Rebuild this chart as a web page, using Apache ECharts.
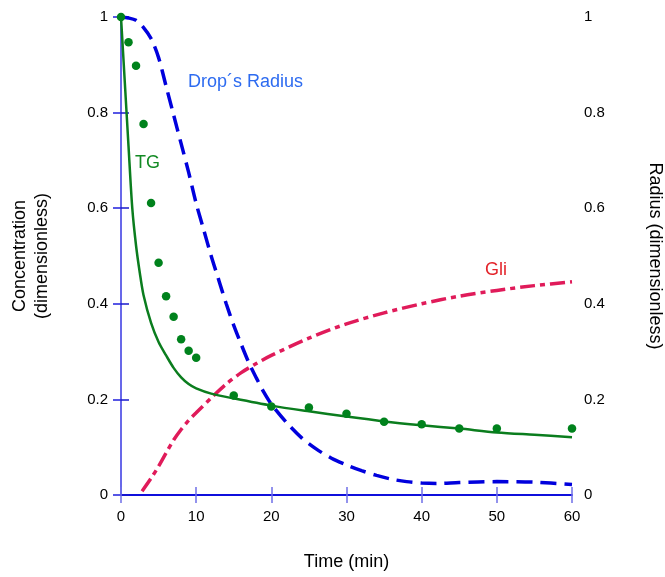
<!DOCTYPE html>
<html>
<head>
<meta charset="utf-8">
<script src="https://cdn.jsdelivr.net/npm/echarts@6/dist/echarts.min.js"></script>
<style>
  html, body { margin: 0; padding: 0; background: #fff; overflow: hidden; }
  #chart { width: 665px; height: 577px; }
</style>
</head>
<body>
<div id="chart"></div>
<script>
// Time axis ticks (min) and value axis ticks (dimensionless)
const timeTicks = [0, 10, 20, 30, 40, 50, 60];
const valueTicks = [0, 0.2, 0.4, 0.6, 0.8, 1];

// TG: model curve
const tgModelTime = [0, 0.5, 1, 1.5, 2, 2.5, 3, 4, 5, 6, 7, 8, 9, 10, 12, 15, 20, 25, 30, 35, 40, 45, 50, 55, 60];
const tgModel = [1, 0.865, 0.73, 0.6, 0.522, 0.465, 0.418, 0.36, 0.32, 0.292, 0.266, 0.246, 0.232, 0.223, 0.212, 0.202, 0.187, 0.175, 0.164, 0.154, 0.146, 0.139, 0.131, 0.126, 0.121];

// TG: measured points
const tgExpTime = [0, 1, 2, 3, 4, 5, 6, 7, 8, 9, 10, 15, 20, 25, 30, 35, 40, 45, 50, 60];
const tgExp = [1, 0.947, 0.898, 0.776, 0.611, 0.486, 0.416, 0.373, 0.326, 0.302, 0.287, 0.208, 0.185, 0.183, 0.17, 0.153, 0.148, 0.139, 0.139, 0.139];

// Gli: model curve
const gliTime = [2.8, 4, 5, 6, 7, 8, 9, 10, 12, 14, 16, 18, 20, 25, 30, 35, 40, 45, 50, 55, 60];
const gli = [0.008, 0.035, 0.06, 0.088, 0.115, 0.137, 0.156, 0.172, 0.203, 0.232, 0.256, 0.275, 0.292, 0.328, 0.358, 0.381, 0.4, 0.416, 0.428, 0.438, 0.446];

// Drop radius (right axis)
const radiusTime = [0, 1, 2, 3, 4, 5, 6, 7, 8, 9, 10, 11, 12, 13, 14, 15, 16, 17, 18, 19, 20, 22, 24, 26, 28, 30, 32, 34, 36, 38, 40, 42, 45, 50, 55, 60];
const radius = [1, 0.998, 0.993, 0.978, 0.955, 0.915, 0.855, 0.795, 0.735, 0.675, 0.61, 0.555, 0.5, 0.45, 0.4, 0.355, 0.315, 0.277, 0.245, 0.215, 0.19, 0.152, 0.12, 0.096, 0.077, 0.063, 0.051, 0.041, 0.033, 0.028, 0.025, 0.024, 0.026, 0.028, 0.027, 0.022];

const pairs = (xs, ys) => xs.map((x, i) => [x, ys[i]]);

const FONT = '"Liberation Sans", Arial, Helvetica, sans-serif';
const GREEN = '#0b7d1e';
const RED = '#e01b5a';
const BLUE = '#0000dd';

const el = document.getElementById('chart');
const chart = echarts.init(el, null, { renderer: 'canvas', width: 665, height: 577 });

const tickStep = timeTicks[1] - timeTicks[0];
const valueStep = valueTicks[1] - valueTicks[0];

chart.setOption({
  animation: false,
  backgroundColor: '#ffffff',
  textStyle: { fontFamily: FONT },
  grid: { left: 121, right: 93, top: 17, bottom: 82, containLabel: false, outerBoundsMode: 'none' },
  xAxis: [
    {
      type: 'value',
      position: 'bottom',
      min: timeTicks[0],
      max: timeTicks[timeTicks.length - 1],
      interval: tickStep,
      name: 'Time (min)',
      nameLocation: 'middle',
      nameGap: 58,
      nameTextStyle: { fontSize: 18, color: '#000', fontFamily: FONT },
      axisLine: { show: true, lineStyle: { color: '#0000cc', width: 1.5 } },
      axisTick: { show: true, inside: true, length: 8, lineStyle: { color: '#6f6fe8', width: 1.5 } },
      axisLabel: { fontSize: 15, color: '#000', margin: 14, fontFamily: FONT },
      splitLine: { show: false }
    },
    {
      type: 'value',
      position: 'top',
      min: timeTicks[0],
      max: timeTicks[timeTicks.length - 1],
      interval: tickStep,
      axisLine: { show: true, lineStyle: { color: '#0000dd', width: 1.5 } },
      axisTick: { show: true, inside: true, length: 8, lineStyle: { color: '#6f6fe8', width: 1.5 } },
      axisLabel: { show: false },
      splitLine: { show: false }
    }
  ],
  yAxis: [
    {
      type: 'value',
      position: 'left',
      min: valueTicks[0],
      max: valueTicks[valueTicks.length - 1],
      interval: valueStep,
      name: 'Concentration\n(dimensionless)',
      nameLocation: 'middle',
      nameRotate: 90,
      nameGap: 68,
      nameTextStyle: { fontSize: 18, color: '#000', fontFamily: FONT, lineHeight: 22 },
      axisLine: { show: true, lineStyle: { color: '#0000cc', width: 1.5 } },
      axisTick: { show: true, inside: true, length: 8, lineStyle: { color: '#1a1acc', width: 1.5 } },
      axisLabel: { fontSize: 15, color: '#000', margin: 13, fontFamily: FONT },
      splitLine: { show: false }
    },
    {
      type: 'value',
      position: 'right',
      min: valueTicks[0],
      max: valueTicks[valueTicks.length - 1],
      interval: valueStep,
      name: 'Radius (dimensionless)',
      nameLocation: 'middle',
      nameRotate: -90,
      nameGap: 74,
      nameTextStyle: { fontSize: 18, color: '#000', fontFamily: FONT },
      axisLine: { show: true, lineStyle: { color: '#7676ee', width: 1.5 } },
      axisTick: { show: true, inside: true, length: 8, lineStyle: { color: '#2020dd', width: 1.5 } },
      axisLabel: { fontSize: 15, color: '#000', margin: 12, fontFamily: FONT },
      splitLine: { show: false }
    }
  ],
  series: [
    {
      name: 'Gli',
      type: 'line',
      xAxisIndex: 0,
      yAxisIndex: 0,
      data: pairs(gliTime, gli),
      smooth: 0.3,
      showSymbol: false,
      lineStyle: { color: RED, width: 3.5, type: [15, 5, 5, 5], cap: 'butt' },
      z: 2
    },
    {
      name: 'Drop´s Radius',
      type: 'line',
      xAxisIndex: 0,
      yAxisIndex: 1,
      data: pairs(radiusTime, radius),
      smooth: 0.3,
      showSymbol: false,
      lineStyle: { color: BLUE, width: 3.5, type: [16, 8], cap: 'butt' },
      z: 3
    },
    {
      name: 'TG',
      type: 'line',
      xAxisIndex: 0,
      yAxisIndex: 0,
      data: pairs(tgModelTime, tgModel),
      smooth: 0.3,
      showSymbol: false,
      lineStyle: { color: GREEN, width: 2.5 },
      z: 4
    },
    {
      name: 'TG data',
      type: 'scatter',
      xAxisIndex: 0,
      yAxisIndex: 0,
      data: pairs(tgExpTime, tgExp),
      symbol: 'circle',
      symbolSize: 8.5,
      clip: false,
      itemStyle: { color: '#00821c', opacity: 1 },
      z: 5
    }
  ],
  graphic: [
    {
      type: 'text', left: 188, top: 73,
      style: { text: 'Drop´s Radius', font: '18px ' + FONT, fill: '#2d6bf0' }
    },
    {
      type: 'text', left: 135, top: 154,
      style: { text: 'TG', font: '18px ' + FONT, fill: '#138a24' }
    },
    {
      type: 'text', left: 485, top: 261,
      style: { text: 'Gli', font: '18px ' + FONT, fill: '#e3242b' }
    }
  ]
});
</script>
</body>
</html>
